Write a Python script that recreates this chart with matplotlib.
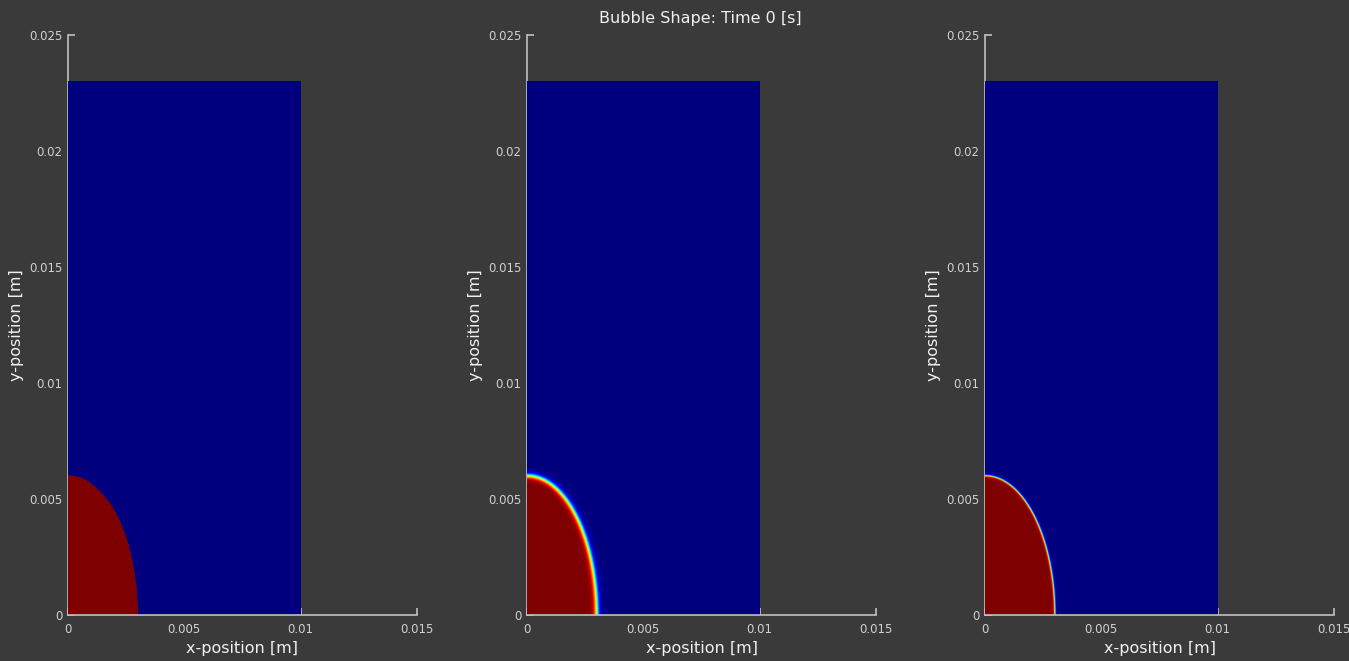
import numpy as np
import matplotlib
matplotlib.use('Agg')
import matplotlib.pyplot as plt
from matplotlib.colors import Normalize

# 计算域与气泡参数
domain_w = 0.01      # 计算域宽度 [m]
domain_h = 0.023     # 计算域高度 [m]
bubble_a = 0.003     # 气泡 x 方向半轴 [m]
bubble_b = 0.006     # 气泡 y 方向半轴 [m]
# 三个面板的界面厚度（0 表示尖锐界面）
interface_eps = [0.0, 0.00013, 0.00005]

x_ticks = [0, 0.005, 0.01, 0.015]
x_tick_labels = ['0', '0.005', '0.01', '0.015']
y_ticks = [0, 0.005, 0.01, 0.015, 0.02, 0.025]
y_tick_labels = ['0', '0.005', '0.01', '0.015', '0.02', '0.025']

bg = '#3a3a3a'
fg = '#d0d0d0'

# 网格
nx, ny = 460, 1060
xs = np.linspace(0, domain_w, nx)
ys = np.linspace(0, domain_h, ny)
X, Y = np.meshgrid(xs, ys)

# 近似符号距离
r = np.sqrt((X / bubble_a) ** 2 + (Y / bubble_b) ** 2)
grad = np.sqrt((X / bubble_a ** 2) ** 2 + (Y / bubble_b ** 2) ** 2) / np.maximum(r, 1e-9)
dist = (r - 1) / np.maximum(grad, 1e-9)

fig = plt.figure(figsize=(13.49, 6.61), dpi=100, facecolor=bg)
lefts = [68 / 1349, 527 / 1349, 985 / 1349]
bottom = 1 - 615 / 661
height = (615 - 35) / 661
width = 349 / 1349

for left, eps in zip(lefts, interface_eps):
    ax = fig.add_axes([left, bottom, width, height])
    ax.set_facecolor(bg)
    if eps == 0:
        phi = (dist <= 0).astype(float)
        interp = 'nearest'
    else:
        phi = 0.5 * (1 - np.tanh(dist / eps))
        interp = 'antialiased'
    ax.set_axisbelow(True)
    ax.imshow(phi, origin='lower', extent=[0, domain_w, 0, domain_h], cmap='jet',
              norm=Normalize(0, 1), aspect='auto', interpolation=interp, zorder=1)
    ax.set_xlim(0, 0.015)
    ax.set_ylim(0, 0.025)
    for s in ['top', 'right']:
        ax.spines[s].set_visible(False)
    for s in ['left', 'bottom']:
        ax.spines[s].set_color('#c0c0c0')
        ax.spines[s].set_linewidth(1.2)
    ax.spines['left'].set_zorder(0.5)
    ax.set_xticks(x_ticks)
    ax.set_xticklabels(x_tick_labels)
    ax.set_yticks(y_ticks)
    ax.set_yticklabels(y_tick_labels)
    ax.tick_params(direction='in', colors='#c0c0c0', labelcolor=fg, labelsize=8.5, length=5, width=1.2)
    ax.tick_params(axis='x', pad=6)
    ax.tick_params(axis='y', pad=4)
    ax.set_xlabel('x-position [m]', color='#f0f0f0', fontsize=11.5, labelpad=3)
    ax.set_ylabel('y-position [m]', color='#f0f0f0', fontsize=11.5, labelpad=4)

fig.text(700 / 1349, 1 - 18 / 661, 'Bubble Shape: Time 0 [s]', color='#f0f0f0', fontsize=11.5,
         ha='center', va='center')

fig.savefig('out.png', dpi=100, facecolor=bg)
